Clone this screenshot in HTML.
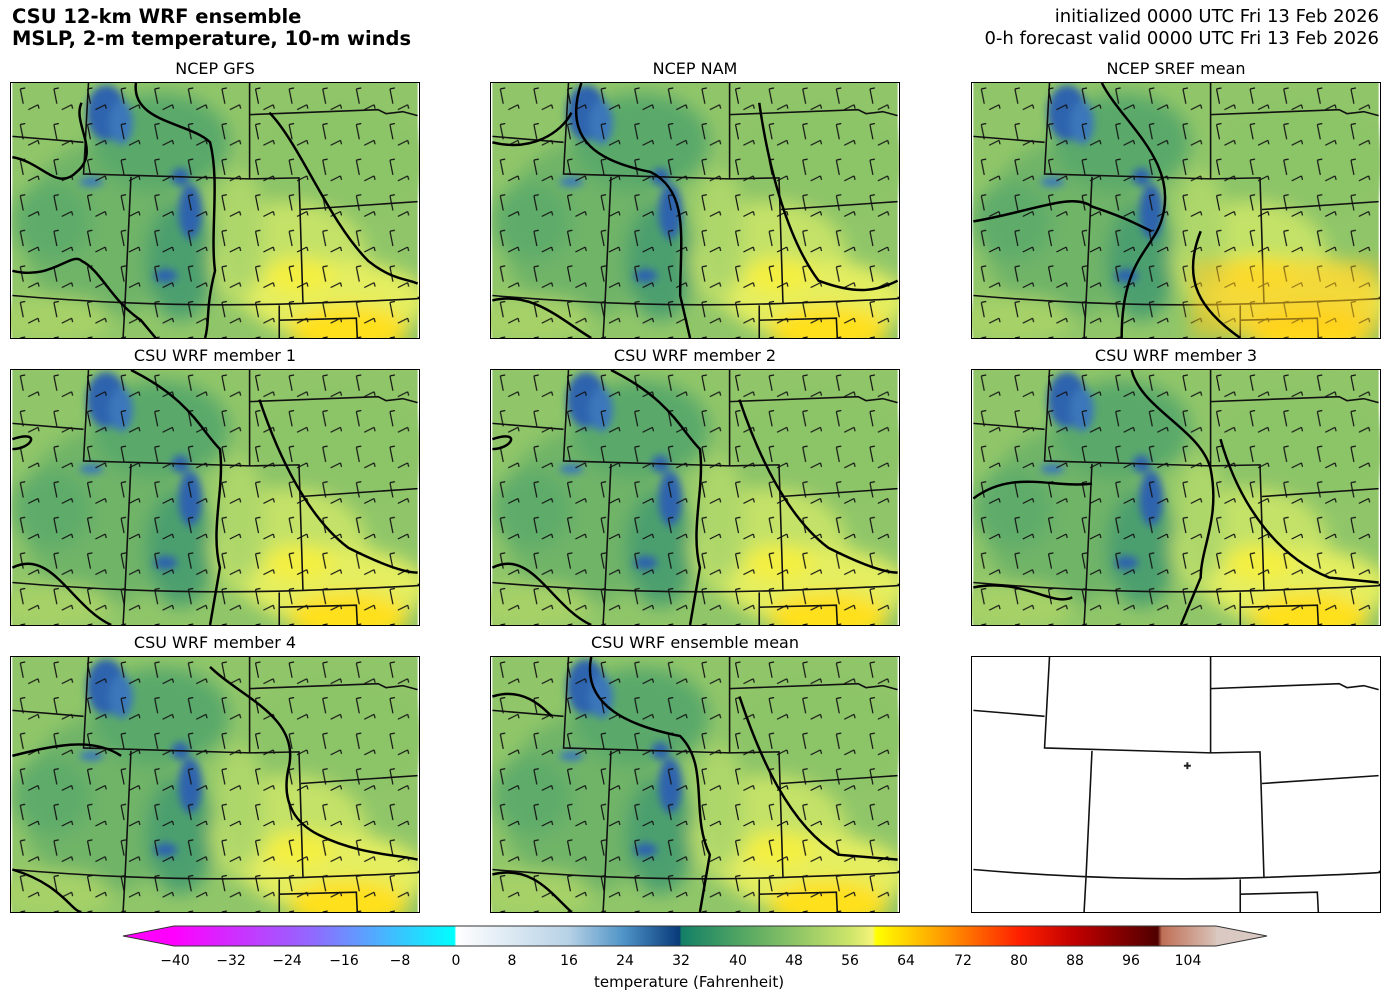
<!DOCTYPE html>
<html><head><meta charset="utf-8"><style>
body{margin:0;background:#fff;width:1391px;height:1001px;position:relative;overflow:hidden;font-family:"DejaVu Sans","Liberation Sans",sans-serif;color:#000}
.t{position:absolute;font-size:17px;white-space:nowrap}
.pt{position:absolute;font-size:16px;width:410px;text-align:center}
.p{position:absolute;width:410px;height:257px;border:1px solid #000;box-sizing:border-box;overflow:hidden}
.tick{position:absolute;top:953px;font-size:14px;transform:translateX(-50%)}
</style></head><body>
<div class="t" style="left:12px;top:6px;font-weight:bold;font-size:19.5px;line-height:22px">CSU 12-km WRF ensemble<br>MSLP, 2-m temperature, 10-m winds</div>
<div class="t" style="right:12px;top:6px;text-align:right;font-size:18px;line-height:22px">initialized 0000 UTC Fri 13 Feb 2026<br>0-h forecast valid 0000 UTC Fri 13 Feb 2026</div>

<svg width="0" height="0" style="position:absolute">
<defs>
<filter id="bl" x="-30%" y="-30%" width="160%" height="160%"><feGaussianBlur stdDeviation="9"/></filter>
<filter id="bs" x="-30%" y="-30%" width="160%" height="160%"><feGaussianBlur stdDeviation="4"/></filter>
<pattern id="barb" patternUnits="userSpaceOnUse" width="34" height="36">
<path d="M8 6 l3 15 m-3-15 l5 -1 M26 22 l-10 5 m10-5 l1 4" stroke="#111" stroke-width="1.2" fill="none"/>
</pattern>
<g id="lines" stroke="#111" stroke-width="1.6" fill="none">
<path d="M0 54 L72 60 M77 0 L72 92 L240 97 M240 0 L240 97 M240 32 L370 27 L378 31 L395 29 L410 33 M120 95 L114 222 M240 97 L290 96 L294 223 M292 128 L410 120 M0 215 Q150 228 294 223 T410 217 M114 222 L112 258 M270 225 L270 258 M270 240 L348 238 L349 258"/>
</g>
<g id="base">
<rect width="410" height="258" fill="#90c669"/>
<g filter="url(#bl)">
<ellipse cx="90" cy="150" rx="80" ry="90" fill="#6fb468"/>
<ellipse cx="150" cy="60" rx="70" ry="50" fill="#5aa96a"/>
<ellipse cx="40" cy="140" rx="40" ry="40" fill="#5fac6a"/>
<ellipse cx="170" cy="180" rx="35" ry="60" fill="#4c9f6e"/>
<ellipse cx="330" cy="80" rx="90" ry="60" fill="#8cc467"/>
<ellipse cx="280" cy="180" rx="80" ry="60" fill="#c4e268"/>
<ellipse cx="330" cy="220" rx="90" ry="40" fill="#e4ee60"/>
<ellipse cx="290" cy="195" rx="35" ry="18" fill="#f4ef40"/>
<ellipse cx="340" cy="250" rx="60" ry="25" fill="#ffe01a"/>
<ellipse cx="40" cy="240" rx="60" ry="25" fill="#a6d168"/>
<ellipse cx="230" cy="150" rx="25" ry="60" fill="#aed76a"/>
</g>
<g filter="url(#bs)" fill="#2f64ae">
<ellipse cx="95" cy="30" rx="20" ry="28"/>
<ellipse cx="110" cy="40" rx="12" ry="22" fill="#3a77ba"/>
<ellipse cx="180" cy="130" rx="12" ry="28"/>
<ellipse cx="170" cy="95" rx="9" ry="9"/>
<ellipse cx="155" cy="195" rx="12" ry="7"/>
<ellipse cx="80" cy="100" rx="12" ry="5" fill="#3a77ba"/>
</g>
<rect width="410" height="258" fill="url(#barb)"/>
<use href="#lines"/>
</g>
</defs></svg>

<div class="pt" style="left:10px;top:59px">NCEP GFS</div>
<div class="pt" style="left:490px;top:59px">NCEP NAM</div>
<div class="pt" style="left:971px;top:59px">NCEP SREF mean</div>
<div class="pt" style="left:10px;top:346px">CSU WRF member 1</div>
<div class="pt" style="left:490px;top:346px">CSU WRF member 2</div>
<div class="pt" style="left:971px;top:346px">CSU WRF member 3</div>
<div class="pt" style="left:10px;top:633px">CSU WRF member 4</div>
<div class="pt" style="left:490px;top:633px">CSU WRF ensemble mean</div>

<svg class="p" style="left:10px;top:82px" viewBox="0 0 410 258"><use href="#base"/>
<path d="M125 0 C120 40 180 40 200 60 C210 100 200 150 205 190 C195 230 200 240 195 258 M260 30 C290 60 320 140 360 180 C385 200 400 198 410 203 M0 75 C30 80 45 110 65 90 C90 70 60 40 70 20 M0 190 C40 200 60 170 70 180 C90 190 100 220 130 240 L145 258" stroke="#000" stroke-width="2.5" fill="none"/></svg>
<svg class="p" style="left:490px;top:82px" viewBox="0 0 410 258"><use href="#base"/>
<path d="M90 0 C70 60 110 80 160 90 C200 110 190 160 190 215 L200 258 M270 20 C280 90 300 160 330 200 C370 215 390 210 410 200 M0 60 C40 70 70 50 80 30 M0 220 C40 210 70 240 100 258" stroke="#000" stroke-width="2.5" fill="none"/></svg>
<svg class="p" style="left:971px;top:82px" viewBox="0 0 410 258"><use href="#base"/>
<rect x="220" y="180" width="190" height="78" fill="#ffc81a" opacity=".55" filter="url(#bl)"/>
<path d="M130 0 C150 40 210 80 190 140 C180 170 150 180 150 258 M0 140 C60 130 100 110 120 125 C150 135 160 140 180 150 M230 150 C210 200 230 230 270 258" stroke="#000" stroke-width="2.5" fill="none"/></svg>
<svg class="p" style="left:10px;top:369px" viewBox="0 0 410 258"><use href="#base"/>
<path d="M120 0 C180 30 190 60 210 80 C215 120 200 160 210 200 L200 258 M250 30 C270 90 300 150 340 180 C380 200 400 205 410 205 M0 200 C40 180 60 240 100 258 M0 70 C30 60 20 80 0 80" stroke="#000" stroke-width="2.5" fill="none"/></svg>
<svg class="p" style="left:490px;top:369px" viewBox="0 0 410 258"><use href="#base"/>
<path d="M120 0 C180 30 190 60 210 80 C215 120 200 160 210 200 L200 258 M250 30 C270 90 300 150 340 180 C380 200 400 205 410 205 M0 200 C40 180 60 240 100 258 M0 70 C30 60 20 80 0 80" stroke="#000" stroke-width="2.5" fill="none"/></svg>
<svg class="p" style="left:971px;top:369px" viewBox="0 0 410 258"><use href="#base"/>
<path d="M160 0 C170 40 230 60 240 100 C250 150 230 180 230 210 L210 258 M250 70 C270 140 310 190 360 210 L410 215 M0 130 C40 100 80 120 120 115 M0 220 C50 210 80 240 100 230" stroke="#000" stroke-width="2.5" fill="none"/></svg>
<svg class="p" style="left:10px;top:656px" viewBox="0 0 410 258"><use href="#base"/>
<path d="M200 10 C230 40 290 60 280 110 C270 150 290 170 310 180 C350 200 390 200 410 205 M0 100 C40 90 80 80 110 100 M0 215 C50 230 60 258 70 258" stroke="#000" stroke-width="2.5" fill="none"/></svg>
<svg class="p" style="left:490px;top:656px" viewBox="0 0 410 258"><use href="#base"/>
<path d="M100 0 C90 50 140 70 190 80 C220 110 200 160 220 200 L210 258 M250 40 C270 100 300 170 350 200 L410 205 M0 40 C30 30 50 50 60 60 M0 220 C40 210 60 240 80 258" stroke="#000" stroke-width="2.5" fill="none"/></svg>
<svg class="p" style="left:971px;top:656px" viewBox="0 0 410 258"><rect width="410" height="258" fill="#fff"/><use href="#lines"/><path d="M213 110 h7 M216.5 106.5 v7" stroke="#222" stroke-width="2"/></svg>

<svg style="position:absolute;left:120px;top:922px" width="1155" height="28">
<defs><linearGradient id="cb" x1="0" x2="1">
<stop offset="0" stop-color="#ff00ff"/>
<stop offset=".135" stop-color="#8f6bff"/>
<stop offset=".269" stop-color="#00ffff"/>
<stop offset=".271" stop-color="#ffffff"/>
<stop offset=".378" stop-color="#b7d2e6"/>
<stop offset=".432" stop-color="#4e93c7"/>
<stop offset=".485" stop-color="#083a7a"/>
<stop offset=".487" stop-color="#137f66"/>
<stop offset=".541" stop-color="#4ea463"/>
<stop offset=".595" stop-color="#8cc466"/>
<stop offset=".649" stop-color="#cde56a"/>
<stop offset=".670" stop-color="#f4f378"/>
<stop offset=".674" stop-color="#ffff00"/>
<stop offset=".730" stop-color="#ffa800"/>
<stop offset=".811" stop-color="#ff2000"/>
<stop offset=".865" stop-color="#c00000"/>
<stop offset=".944" stop-color="#500000"/>
<stop offset=".948" stop-color="#bf6f55"/>
<stop offset="1" stop-color="#d9c3b9"/>
</linearGradient></defs>
<rect x="54" y="4" width="1042" height="20" fill="url(#cb)"/>
<polygon points="3,14 54,4 54,24" fill="#ff00ff"/>
<polygon points="1147,14 1096,4 1096,24" fill="#d9c9c2"/>
<polygon points="3,14 54,4 1096,4 1147,14 1096,24 54,24" fill="none" stroke="#333" stroke-width="1"/>
</svg>
<div class="tick" style="left:175px">−40</div>
<div class="tick" style="left:231px">−32</div>
<div class="tick" style="left:287px">−24</div>
<div class="tick" style="left:344px">−16</div>
<div class="tick" style="left:400px">−8</div>
<div class="tick" style="left:456px">0</div>
<div class="tick" style="left:512px">8</div>
<div class="tick" style="left:569px">16</div>
<div class="tick" style="left:625px">24</div>
<div class="tick" style="left:681px">32</div>
<div class="tick" style="left:738px">40</div>
<div class="tick" style="left:794px">48</div>
<div class="tick" style="left:850px">56</div>
<div class="tick" style="left:906px">64</div>
<div class="tick" style="left:963px">72</div>
<div class="tick" style="left:1019px">80</div>
<div class="tick" style="left:1075px">88</div>
<div class="tick" style="left:1131px">96</div>
<div class="tick" style="left:1188px">104</div>
<div class="t" style="left:594px;top:973px;font-size:15px">temperature (Fahrenheit)</div>
</body></html>
